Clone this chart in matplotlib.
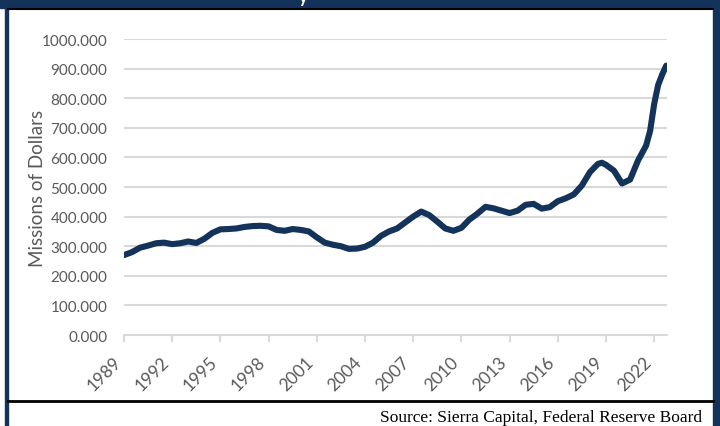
import numpy as np
import matplotlib.pyplot as plt
from matplotlib.patches import Rectangle
from matplotlib.lines import Line2D

# ---- data ----
years = [1989.0, 1989.5, 1990.0, 1990.5, 1991.0, 1991.5, 1992.0, 1992.5,
         1993.0, 1993.5, 1994.0, 1994.5, 1995.0, 1995.5, 1996.0, 1996.5,
         1997.0, 1997.5, 1998.0, 1998.5, 1999.0, 1999.5, 2000.0, 2000.5,
         2001.0, 2001.5, 2002.0, 2002.5, 2003.0, 2003.5, 2004.0, 2004.5,
         2005.0, 2005.5, 2006.0, 2006.5, 2007.0, 2007.5, 2008.0, 2008.5,
         2009.0, 2009.5, 2010.0, 2010.5, 2011.0, 2011.5, 2012.0, 2012.5,
         2013.0, 2013.5, 2014.0, 2014.5, 2015.0, 2015.5, 2016.0, 2016.5,
         2017.0, 2017.5, 2018.0, 2018.5, 2018.75, 2019.0, 2019.5, 2020.0,
         2020.5, 2021.0, 2021.5, 2021.75, 2022.0, 2022.25, 2022.5, 2022.75]
values = [270, 280, 295, 302, 310, 312, 307, 310,
          316, 311, 325, 345, 357, 358, 360, 365,
          368, 369, 367, 355, 352, 358, 355, 350,
          330, 312, 305, 300, 291, 292, 298, 312,
          335, 350, 360, 380, 400, 417, 405, 383,
          360, 352, 362, 390, 410, 433, 428, 420,
          412, 420, 440, 443, 427, 432, 452, 462,
          475, 505, 550, 578, 582, 575, 555, 512,
          525, 590, 640, 690, 780, 845, 880, 910]
tick_years = list(range(1989, 2023, 3))
y_ticks = list(range(0, 1001, 100))

navy = '#14335a'
gray_txt = '#595959'
grid_c = '#d9d9d9'

plt.rcParams['font.family'] = ['Lato', 'DejaVu Sans']

fig = plt.figure(figsize=(7.2, 4.27), dpi=100)
ax = fig.add_axes([0.1722, 0.2131, 0.7542, 0.6932])

ax.plot(years, values, color=navy, lw=4.4, solid_capstyle='round',
        solid_joinstyle='round')

ax.set_xlim(1989, 2022.8)
ax.set_ylim(0, 1000)
ax.set_yticks(y_ticks)
ax.set_yticklabels([f'{v}.000' for v in y_ticks])
ax.set_xticks(tick_years)
ax.set_xticklabels([str(y) for y in tick_years], rotation=45, ha='right')

ax.grid(axis='y', color=grid_c, lw=1.5)
ax.set_axisbelow(True)
for s in ['top', 'right', 'left']:
    ax.spines[s].set_visible(False)
ax.spines['bottom'].set_color(grid_c)
ax.spines['bottom'].set_linewidth(1.5)
ax.tick_params(axis='y', length=0, pad=12, labelsize=11, labelcolor=gray_txt)
ax.tick_params(axis='x', length=5, width=1.5, color=grid_c, pad=8,
               labelsize=12.5, labelcolor=gray_txt)
ax.set_ylabel('Missions of Dollars', fontsize=13.5, color=gray_txt)
ax.yaxis.set_label_coords(-0.144, 0.5)

# frame: header bar, side borders, footer rule
fig.patches.append(Rectangle((0, 1 - 9/427), 1, 9/427, transform=fig.transFigure,
                             color=navy, zorder=0))
fig.lines.append(Line2D([8/720, 713/720], [1 - 10/427, 1 - 10/427],
                        transform=fig.transFigure, color='black', lw=1.5))
fig.patches.append(Rectangle((5/720, 0), 3/720, 1, transform=fig.transFigure,
                             color=navy, zorder=0))
fig.patches.append(Rectangle((713/720, 0), 7/720, 1, transform=fig.transFigure,
                             color=navy, zorder=0))
fig.lines.append(Line2D([8/720, 713/720], [1 - 402/427, 1 - 402/427],
                        transform=fig.transFigure, color='black', lw=2))

# cut-off title (only a descender is visible)
fig.text(303/720, 1 - 3/427, 'y', color='white', fontsize=12, ha='center',
         va='baseline', fontweight='bold')

fig.text(702/720, 1 - 422/427, 'Source: Sierra Capital, Federal Reserve Board',
         family='Liberation Serif', fontsize=12.5, ha='right', va='baseline')

fig.savefig('out.png', dpi=100)
